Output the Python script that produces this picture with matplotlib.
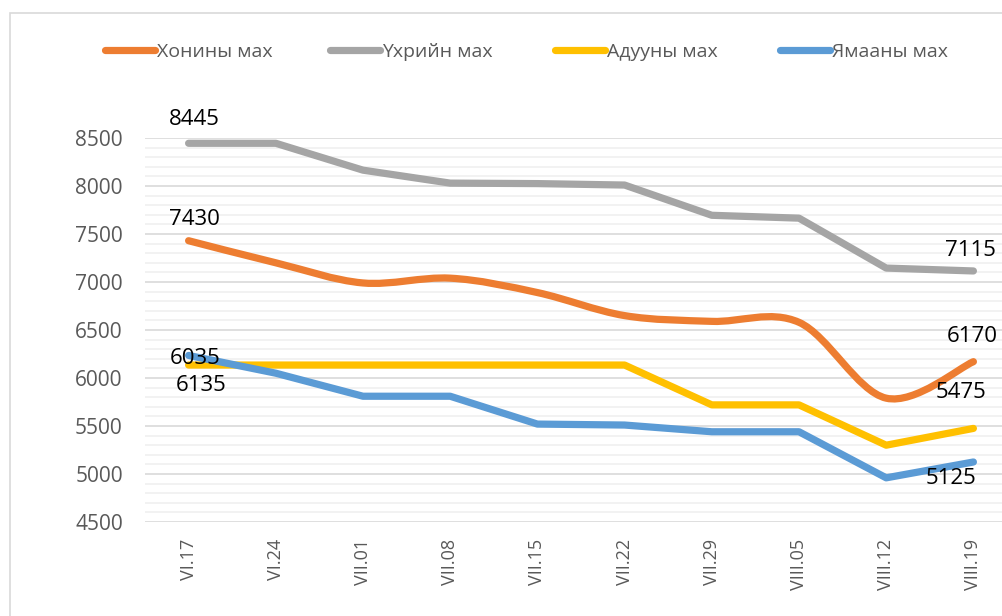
import matplotlib.pyplot as plt
from matplotlib.path import Path
from matplotlib.patches import PathPatch, Rectangle
from matplotlib.lines import Line2D
from matplotlib.ticker import MultipleLocator

plt.rcParams['font.family'] = ['Open Sans', 'DejaVu Sans']

dates = ['VI.17', 'VI.24', 'VII.01', 'VII.08', 'VII.15', 'VII.22', 'VII.29', 'VIII.05', 'VIII.12', 'VIII.19']
names = ['Хонины мах', 'Үхрийн мах', 'Адууны мах', 'Ямааны мах']
colors = ['#ED7D31', '#A5A5A5', '#FFC000', '#5B9BD5']
smoothed = [True, False, False, False]

honi = [7430, 7200, 6990, 7040, 6890, 6650, 6590, 6580, 5790, 6170]
uher = [8445, 8445, 8165, 8030, 8025, 8010, 7695, 7665, 7145, 7115]
aduu = [6135, 6135, 6135, 6135, 6135, 6135, 5720, 5720, 5300, 5475]
yamaa = [6235, 6050, 5810, 5810, 5520, 5510, 5440, 5440, 4960, 5125]
series = [honi, uher, aduu, yamaa]

# data labels: (series index, point index, text, offset in points)
labels = [
    (1, 0, '8445', (4, 17)),
    (0, 0, '7430', (4, 15)),
    (3, 0, '6035', (5, -2)),
    (2, 0, '6135', (9, -15)),
    (1, 9, '7115', (-2, 15)),
    (0, 9, '6170', (-1, 18)),
    (2, 9, '5475', (-9, 26)),
    (3, 9, '5125', (-16, -12)),
]


def line_path(xs, ys, smooth):
    # Bezier path through the points, like Excel's smoothed line
    verts = [(xs[0], ys[0])]
    codes = [Path.MOVETO]
    n = len(xs)
    for i in range(n - 1):
        x1, y1 = xs[i], ys[i]
        x2, y2 = xs[i + 1], ys[i + 1]
        if not smooth:
            verts.append((x2, y2))
            codes.append(Path.LINETO)
            continue
        x0, y0 = (xs[i - 1], ys[i - 1]) if i > 0 else (x1, y1)
        x3, y3 = (xs[i + 2], ys[i + 2]) if i + 2 < n else (x2, y2)
        c1 = (x1 + (x2 - x0) / 6, y1 + (y2 - y0) / 6)
        c2 = (x2 - (x3 - x1) / 6, y2 - (y3 - y1) / 6)
        verts += [c1, c2, (x2, y2)]
        codes += [Path.CURVE4] * 3
    return Path(verts, codes)


fig = plt.figure(figsize=(10.03, 6.16), dpi=100)
fig.patches.append(Rectangle((10 / 1003, -0.1), 1.1, 1.1 - 13 / 616,
                             transform=fig.transFigure, fill=False,
                             edgecolor='#D9D9D9', linewidth=1.2))
ax = fig.add_axes([145 / 1003, 1 - 522 / 616, 872 / 1003, 384 / 616])

xs = list(range(len(dates)))
for vals, c, sm in zip(series, colors, smoothed):
    ax.add_patch(PathPatch(line_path(xs, vals, sm), fill=False, edgecolor=c,
                           linewidth=5.2, capstyle='round', joinstyle='round', zorder=3))

for si, pi, txt, off in labels:
    ax.annotate(txt, (xs[pi], series[si][pi]), xytext=off, textcoords='offset points',
                ha='center', va='center', fontsize=16, color='black', zorder=4)

ax.set_xlim(-0.5, len(dates) - 0.5)
ax.set_ylim(4500, 8500)
ax.yaxis.set_major_locator(MultipleLocator(500))
ax.yaxis.set_minor_locator(MultipleLocator(100))
ax.grid(which='major', axis='y', color='#D9D9D9', linewidth=1.2)
ax.grid(which='minor', axis='y', color='#F0F0F0', linewidth=1.2)
ax.set_axisbelow(True)
ax.set_xticks(xs)
ax.set_xticklabels(dates, rotation=90, fontsize=13, color='#595959')
ax.tick_params(axis='y', labelsize=15, labelcolor='#595959', length=0, pad=16)
ax.tick_params(axis='y', which='minor', length=0)
ax.tick_params(axis='x', length=0, pad=12)
for s in ax.spines.values():
    s.set_visible(False)
ax.set_facecolor('none')

# legend entries evenly spaced, as in the Excel chart
for i, (name, c) in enumerate(zip(names, colors)):
    h = Line2D([], [], color=c, linewidth=5.2, solid_capstyle='round')
    fig.legend([h], [name], loc='center left',
               bbox_to_anchor=((97 + 225 * i) / 1003, 1 - 52 / 616),
               frameon=False, fontsize=14, handlelength=2.6, handletextpad=0.1,
               borderaxespad=0, labelcolor='#595959')

fig.savefig('out.png', dpi=100)
